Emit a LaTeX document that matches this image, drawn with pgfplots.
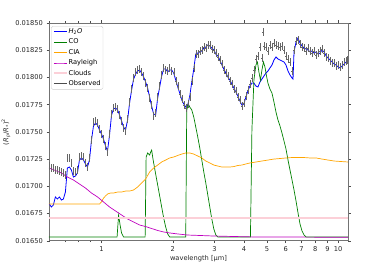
\documentclass[border=0pt]{standalone}
\usepackage{fontspec}
\setmainfont{DejaVu Sans}
\usepackage{pgfplots}
\usepackage{pgfplotstable}
\pgfplotsset{compat=1.18}
\definecolor{mplblue}{rgb}{0,0,1}
\definecolor{mplgreen}{rgb}{0,0.5,0}
\definecolor{mplorange}{RGB}{255,165,0}
\definecolor{mplmag}{rgb}{0.75,0,0.75}
\definecolor{mplpink}{RGB}{252,208,216}

\pgfplotstableread{
x y
0.60208 0.016837
0.61395 0.016810
0.62604 0.016828
0.63838 0.016902
0.65096 0.016883
0.66379 0.016902
0.67687 0.016874
0.69021 0.016883
0.70381 0.016947
0.71768 0.017168
0.73182 0.017177
0.74624 0.017149
0.76095 0.017085
0.77594 0.017094
0.79123 0.017122
0.80683 0.017241
0.82272 0.017260
0.83894 0.017241
0.85547 0.017205
0.87233 0.017177
0.88952 0.017241
0.90704 0.017425
0.92492 0.017554
0.94314 0.017581
0.96173 0.017563
0.98068 0.017517
1.0000 0.017480
1.0197 0.017434
1.0398 0.017370
1.0603 0.017324
1.0812 0.017471
1.1025 0.017655
1.1242 0.017710
1.1464 0.017719
1.1690 0.017701
1.1920 0.017655
1.2155 0.017600
1.2394 0.017544
1.2638 0.017517
1.2887 0.017609
1.3141 0.017765
1.3400 0.017884
1.3664 0.017985
1.3933 0.018031
1.4208 0.018059
1.4488 0.018068
1.4773 0.018040
1.5064 0.018004
1.5361 0.017958
1.5663 0.017903
1.5972 0.017820
1.6287 0.017737
1.6608 0.017664
1.6935 0.017655
1.7269 0.017811
1.7609 0.017912
1.7956 0.018013
1.8309 0.018077
1.8670 0.018077
1.9038 0.018050
1.9413 0.018068
1.9796 0.018068
2.0186 0.018040
2.0583 0.017976
2.0989 0.017912
2.1402 0.017857
2.1824 0.017793
2.2254 0.017756
2.2692 0.017728
2.3139 0.017746
2.3595 0.017829
2.4060 0.017958
2.4534 0.018077
2.5017 0.018215
2.5510 0.018224
2.6012 0.018234
2.6525 0.018243
2.7047 0.018270
2.7580 0.018279
2.8123 0.018298
2.8677 0.018289
2.9242 0.018270
2.9818 0.018252
3.0405 0.018215
3.1004 0.018197
3.1615 0.018160
3.2238 0.018114
3.2873 0.018077
3.3520 0.018040
3.4180 0.018004
3.4853 0.017976
3.5540 0.017940
3.6240 0.017903
3.6954 0.017866
3.7682 0.017829
3.8424 0.017783
3.9181 0.017746
3.9953 0.017756
4.0740 0.017820
4.1542 0.017875
4.2360 0.017921
4.3195 0.017948
4.4046 0.017948
4.4913 0.017921
4.5798 0.017912
4.6700 0.017958
4.7620 0.017985
4.8558 0.018013
4.9514 0.018040
5.0490 0.018059
5.1484 0.018087
5.2498 0.018114
5.3532 0.018160
5.4587 0.018188
5.5662 0.018169
5.6758 0.018160
5.7876 0.018151
5.9016 0.018142
6.0179 0.018114
6.1364 0.018059
6.2573 0.018022
6.3805 0.017995
6.4430 0.017985
6.5062 0.018234
6.6344 0.018325
6.7650 0.018362
6.8983 0.018316
7.0342 0.018289
7.1727 0.018270
7.3140 0.018261
7.4581 0.018252
7.6050 0.018234
7.7548 0.018243
7.9075 0.018224
8.0633 0.018234
8.2221 0.018215
8.3841 0.018224
8.5492 0.018252
8.7176 0.018234
8.8893 0.018197
9.0644 0.018178
9.2430 0.018160
9.4250 0.018142
9.6107 0.018123
9.8000 0.018114
9.9930 0.018096
10.190 0.018087
10.390 0.018105
10.595 0.018123
10.804 0.018142
11.000 0.018151
}\hdata

\pgfplotstableread{
x y
0.60208 0.017186
0.61395 0.017168
0.62604 0.017168
0.63838 0.017149
0.65096 0.017149
0.66379 0.017140
0.67687 0.017131
0.69021 0.017122
0.70381 0.017104
0.71768 0.017260
0.73182 0.017260
0.74624 0.017214
0.76095 0.017140
0.77594 0.017131
0.79123 0.017149
0.80683 0.017269
0.82272 0.017278
0.83894 0.017269
0.85547 0.017214
0.87233 0.017177
0.88952 0.017260
0.90704 0.017425
0.92492 0.017590
0.94314 0.017600
0.96173 0.017581
0.98068 0.017526
1.0000 0.017480
1.0197 0.017434
1.0398 0.017370
1.0603 0.017315
1.0812 0.017480
1.1025 0.017664
1.1242 0.017719
1.1464 0.017728
1.1690 0.017710
1.1920 0.017655
1.2155 0.017600
1.2394 0.017535
1.2638 0.017508
1.2887 0.017618
1.3141 0.017774
1.3400 0.017894
1.3664 0.017995
1.3933 0.018050
1.4208 0.018068
1.4488 0.018077
1.4773 0.018050
1.5064 0.018013
1.5361 0.017948
1.5663 0.017903
1.5972 0.017811
1.6287 0.017746
1.6608 0.017646
1.6935 0.017673
1.7269 0.017820
1.7609 0.017921
1.7956 0.018022
1.8309 0.018087
1.8670 0.018068
1.9038 0.018059
1.9413 0.018087
1.9796 0.018059
2.0186 0.018050
2.0583 0.017967
2.0989 0.017921
2.1402 0.017848
2.1824 0.017802
2.2254 0.017746
2.2692 0.017719
2.3139 0.017756
2.3595 0.017820
2.4060 0.017967
2.4534 0.018087
2.5017 0.018215
2.5510 0.018215
2.6012 0.018243
2.6525 0.018252
2.7047 0.018279
2.7580 0.018270
2.8123 0.018298
2.8677 0.018298
2.9242 0.018261
2.9818 0.018252
3.0405 0.018224
3.1004 0.018188
3.1615 0.018160
3.2238 0.018123
3.2873 0.018068
3.3520 0.018040
3.4180 0.018013
3.4853 0.017967
3.5540 0.017940
3.6240 0.017894
3.6954 0.017875
3.7682 0.017820
3.8424 0.017793
3.9181 0.017737
3.9953 0.017765
4.0740 0.017829
4.1542 0.017884
4.2360 0.017940
4.3195 0.017995
4.4046 0.018068
4.4913 0.018169
4.5798 0.018197
4.6700 0.018279
4.7620 0.018178
4.8090 0.018417
4.8558 0.018289
4.9514 0.018279
5.0490 0.018243
5.1484 0.018298
5.2498 0.018279
5.3532 0.018316
5.4587 0.018298
5.5662 0.018289
5.6758 0.018279
5.7876 0.018289
5.9016 0.018252
6.0179 0.018197
6.1364 0.018169
6.2573 0.018142
6.3805 0.018059
6.5062 0.018252
6.6344 0.018334
6.7650 0.018344
6.8983 0.018307
7.0342 0.018279
7.1727 0.018270
7.3140 0.018243
7.4581 0.018270
7.6050 0.018243
7.7548 0.018224
7.9075 0.018243
8.0633 0.018206
8.2221 0.018224
8.3841 0.018243
8.5492 0.018261
8.7176 0.018224
8.8893 0.018188
9.0644 0.018178
9.2430 0.018151
9.4250 0.018132
9.6107 0.018132
9.8000 0.018105
9.9930 0.018114
10.190 0.018096
10.390 0.018114
10.595 0.018142
10.804 0.018151
10.950 0.018160
}\obsdata

\pgfplotstableread{
x y
0.6000 0.016534
1.1635 0.016534
1.1807 0.016736
1.1981 0.016644
1.2155 0.016571
1.2394 0.016534
1.5286 0.016534
1.5437 0.017269
1.5663 0.017306
1.5972 0.017287
1.6130 0.017315
1.6287 0.017333
1.6527 0.017241
1.6935 0.017113
1.7269 0.017012
1.7609 0.016911
1.7956 0.016810
1.8309 0.016709
1.8670 0.016626
1.9038 0.016562
1.9413 0.016534
2.2692 0.016534
2.2915 0.017699
2.3254 0.017756
2.3595 0.017728
2.4060 0.017701
2.4534 0.017636
2.5017 0.017544
2.5510 0.017452
2.6012 0.017352
2.6525 0.017241
2.7047 0.017131
2.7580 0.017030
2.8123 0.016920
2.8677 0.016810
2.9242 0.016699
2.9818 0.016608
3.0405 0.016552
3.1004 0.016534
4.2580 0.016534
4.3195 0.017517
4.4046 0.017976
4.4913 0.018114
4.5570 0.018142
4.6240 0.018050
4.6930 0.017976
4.7620 0.018068
4.8320 0.018142
4.9030 0.018096
4.9514 0.018040
5.0490 0.017948
5.1484 0.017893
5.2498 0.017857
5.3532 0.017774
5.4587 0.017682
5.5662 0.017609
5.6758 0.017554
5.7876 0.017489
5.9016 0.017416
6.0179 0.017342
6.1364 0.017241
6.2573 0.017149
6.3805 0.017058
6.5062 0.016966
6.6344 0.016865
6.7650 0.016755
6.8983 0.016653
7.0342 0.016589
7.1727 0.016552
7.3140 0.016534
11.000 0.016534
}\codata

\pgfplotstableread{
x y
0.6000 0.016837
0.98068 0.016837
1.0000 0.016856
1.0197 0.016892
1.0398 0.016911
1.0603 0.016929
1.0920 0.016938
1.1242 0.016938
1.1690 0.016947
1.2155 0.016947
1.2638 0.016956
1.3141 0.016956
1.3664 0.016966
1.4208 0.016993
1.4773 0.017030
1.5361 0.017067
1.5972 0.017131
1.6608 0.017168
1.7269 0.017195
1.7956 0.017223
1.8670 0.017241
1.9413 0.017260
2.0186 0.017269
2.0989 0.017283
2.1824 0.017296
2.2692 0.017306
2.3595 0.017306
2.4534 0.017296
2.5510 0.017278
2.6525 0.017260
2.7580 0.017232
2.8677 0.017214
2.9818 0.017195
3.1004 0.017186
3.2238 0.017177
3.3520 0.017177
3.4853 0.017177
3.6240 0.017181
3.7682 0.017191
3.9181 0.017195
4.0740 0.017205
4.2360 0.017214
4.4913 0.017223
4.7620 0.017232
5.0490 0.017241
5.3532 0.017250
5.6758 0.017255
6.0179 0.017260
6.3805 0.017264
6.7650 0.017264
7.1727 0.017264
7.6050 0.017260
8.0633 0.017260
8.5492 0.017250
9.0644 0.017241
9.6107 0.017232
10.190 0.017228
11.000 0.017223
}\ciadata

\pgfplotstableread{
x y
0.6000 0.017168
0.63838 0.017145
0.67687 0.017122
0.71768 0.017085
0.76095 0.017058
0.80683 0.017021
0.85547 0.016984
0.90704 0.016938
0.96173 0.016902
1.0197 0.016856
1.0812 0.016810
1.1464 0.016773
1.2155 0.016736
1.2887 0.016700
1.3664 0.016672
1.4488 0.016644
1.5361 0.016630
1.6287 0.016612
1.7269 0.016594
1.8309 0.016580
1.9413 0.016571
2.0989 0.016562
2.3139 0.016552
2.6012 0.016548
2.9818 0.016543
3.5540 0.016539
4.4913 0.016534
6.0179 0.016534
11.000 0.016531
}\raydata

\begin{document}
\begin{tikzpicture}
\begin{axis}[
  scale only axis,
  width=299bp, height=217.7bp,
  at={(0,0)}, anchor=south west,
  xmode=log,
  xmin=0.6, xmax=11,
  ymin=0.0165, ymax=0.0185,
  xtick={1,2,3,4,5,6,7,8,9,10},
  xticklabels={1,2,3,4,5,6,7,8,9,10},
  minor xtick={0.6,0.7,0.8,0.9},
  ytick={0.0165,0.01675,0.017,0.01725,0.0175,0.01775,0.018,0.01825,0.0185},
  scaled y ticks=false,
  yticklabel style={/pgf/number format/.cd, fixed, fixed zerofill, precision=5},
  /pgf/number format/assume math mode=true,
  tick align=outside,
  major tick length=2.5bp,
  minor tick length=1.5bp,
  tick style={black!70, line width=0.4bp},
  axis line style={black!55, line width=0.5bp},
  tick label style={font=\fontsize{6.7}{8}\selectfont, text=black!85},
  xlabel={wavelength [µm]},
  ylabel={(\textit{R}\textsubscript{\textit{p}}/\textit{R}\textsubscript{*})\textsuperscript{2}},
  label style={font=\fontsize{6.7}{8}\selectfont, text=black!85},
  xlabel style={at={(axis description cs:0.5,0)}, anchor=center, yshift=-17.5bp},
  ylabel style={at={(axis description cs:-0.1438,0.5)}, anchor=center},
  legend cell align=left,
  legend style={at={(axis description cs:0.007,0.986)}, anchor=north west,
    draw=black!20, rounded corners=1.5bp, fill=white,
    font=\fontsize{6.7}{8}\selectfont, row sep=2.3bp, inner sep=1.5bp,
    nodes={inner sep=0.8bp, text height=5bp, text depth=1.5bp}},
  legend image code/.code={\draw[mark repeat=2,mark phase=2,#1] plot coordinates {(0bp,0bp) (6.5bp,0bp) (13bp,0bp)};},
  clip=true,
]
\addplot[color=mplblue, line width=0.8bp] table[x=x,y=y]{\hdata};
\addlegendentry{\textit{H}\textsubscript{2}\textit{O}}
\addplot[color=mplgreen, line width=0.7bp] table[x=x,y=y]{\codata};
\addlegendentry{CO}
\addplot[color=mplorange, line width=0.7bp] table[x=x,y=y]{\ciadata};
\addlegendentry{CIA}
\addplot[color=mplmag, line width=0.7bp] table[x=x,y=y]{\raydata};
\addlegendentry{Rayleigh}
\addplot[color=mplpink, line width=2bp] coordinates {(0.6,0.016711) (11,0.016711)};
\addlegendentry{Clouds}
\addplot[only marks, mark=-, mark size=0.6bp, black!60,
  legend image code/.code={\draw[black!70, line width=0.8bp] (0bp,0bp) -- (13bp,0bp);},
  error bars/.cd, y dir=both, y fixed=0.000026,
  error bar style={black!60, line width=0.4bp},
  error mark=-, error mark options={black!60, mark size=1.1bp, line width=0.4bp}]
  table[x=x,y=y]{\obsdata};
\addlegendentry{Observed}
\end{axis}
\pgfresetboundingbox
\useasboundingbox (-49bp,-31.3bp) rectangle (323bp,240.7bp);
\end{tikzpicture}
\end{document}
